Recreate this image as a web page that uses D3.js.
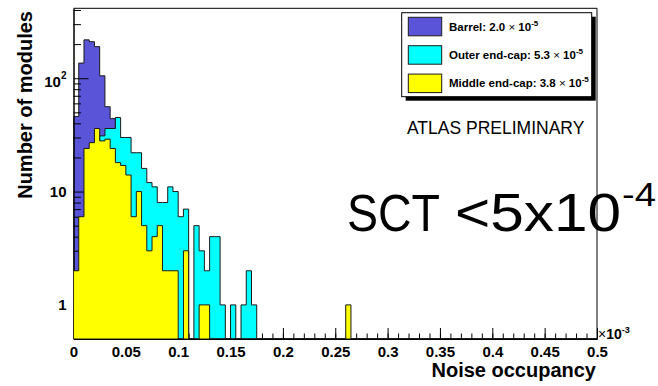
<!DOCTYPE html>
<html>
<head>
<meta charset="utf-8">
<script src="https://cdn.jsdelivr.net/npm/d3@7"></script>
<style>
  body { margin: 0; background: #fff; }
  svg { display: block; font-family: "Liberation Sans", Arial, Helvetica, sans-serif; }
</style>
</head>
<body>
<div id="chart"></div>
<script>
(function() {

    // noise occupancy histograms, bins of 0.005 (x10^-3) from 0 to 0.5
    var binWidth = 0.005;
    var nBins = 100;

    // modules per bin, bins past the end of each list are empty
    var barrel = [46, 136, 218, 210, 190, 105, 56, 44, 30, 20, 12, 8, 5, 3, 2, 1, 1];
    var outerEndcap = [0, 0, 0, 0, 0, 31, 36, 36, 45, 30, 30, 22, 22, 16, 12, 11, 8, 8, 11, 10,
                       6, 7, 0, 5, 3, 2, 4, 4, 1, 0, 1, 0, 1, 2, 1];
    var middleEndcap = [2, 6, 24, 27, 36, 28, 29, 24, 18, 17, 14, 6, 10, 5, 3, 4, 5, 2, 2, 2,
                        0, 3, 0, 0, 1, 1, 0, 0, 0, 0, 0, 0, 0, 0, 0, 0, 0, 0, 0, 0,
                        0, 0, 0, 0, 0, 0, 0, 0, 0, 0, 0, 0, 1];

    var legendNames = ["Barrel: ", "Outer end-cap: ", "Middle end-cap: "];
    var legendMeans = ["2.0", "5.3", "3.8"];
    var legendExponent = "-5";
    var colors = ["#5954d8", "#00ffff", "#ffff00"];

    var xTicks = [0, 0.05, 0.1, 0.15, 0.2, 0.25, 0.3, 0.35, 0.4, 0.45, 0.5];
    var yTicks = [1, 10, 100];
    var yMinorTicks = [0.6, 0.7, 0.8, 0.9, 2, 3, 4, 5, 6, 7, 8, 9,
                       20, 30, 40, 50, 60, 70, 80, 90, 200, 300, 400];

    var W = 658, H = 386;
    var frame = {left: 73.5, right: 597, top: 8.3, bottom: 339};

    var svg = d3.select("#chart").append("svg")
        .attr("width", W)
        .attr("height", H);

    svg.append("rect").attr("width", W).attr("height", H).attr("fill", "#fff");

    var x = d3.scaleLinear().domain([0, 0.5]).range([frame.left, frame.right]);
    var y = d3.scaleLog().domain([0.5, 414]).range([frame.bottom, frame.top]);

    svg.append("clipPath").attr("id", "plot-clip")
      .append("rect")
        .attr("x", frame.left).attr("y", frame.top)
        .attr("width", frame.right - frame.left)
        .attr("height", frame.bottom - frame.top);

    // step outline of one histogram, closed along the bottom of the frame
    function histPath(counts) {
        var pts = [[x(0), frame.bottom]];
        for (var i = 0; i < nBins; i++) {
            var v = counts[i] || 0;
            var yy = v > 0 ? y(v) : frame.bottom;
            pts.push([x(i * binWidth), yy], [x((i + 1) * binWidth), yy]);
        }
        pts.push([x(nBins * binWidth), frame.bottom]);
        return d3.line()(pts) + "Z";
    }

    function drawHist(counts, color) {
        svg.append("path")
            .attr("clip-path", "url(#plot-clip)")
            .attr("d", histPath(counts))
            .attr("fill", color)
            .attr("stroke", "#1a1a1a")
            .attr("stroke-width", 1);
    }

    // barrel first, then frame and axes, then the end-caps drawn "same" on top
    drawHist(barrel, colors[0]);

    svg.append("path")
        .attr("d", "M" + frame.left + "," + frame.top + "H" + frame.right + "V" + frame.bottom)
        .attr("fill", "none")
        .attr("stroke", "#000")
        .attr("stroke-width", 1);

    var labelFont = function(g) {
        g.attr("font-family", null).attr("font-size", null);
        g.selectAll("text")
            .attr("font-size", 15)
            .attr("font-weight", "bold")
            .attr("fill", "#000");
    };

    // x axis, ticks pointing into the frame
    svg.append("g")
        .attr("transform", "translate(0," + frame.bottom + ")")
        .call(d3.axisBottom(x).tickValues(d3.range(0, 0.5001, 0.01))
            .tickSize(-5.5).tickSizeOuter(0).tickFormat(""));

    svg.append("g")
        .attr("transform", "translate(0," + frame.bottom + ")")
        .call(d3.axisBottom(x).tickValues(xTicks)
            .tickSize(-11).tickSizeOuter(0).tickPadding(7)
            .tickFormat(d3.format("~g")))
        .call(labelFont);

    // y axis, log scale
    svg.append("g")
        .attr("transform", "translate(" + frame.left + ",0)")
        .call(d3.axisLeft(y).tickValues(yMinorTicks)
            .tickSize(-7.5).tickSizeOuter(0).tickFormat(""));

    var yAxis = svg.append("g")
        .attr("transform", "translate(" + frame.left + ",0)")
        .call(d3.axisLeft(y).tickValues(yTicks)
            .tickSize(-15).tickSizeOuter(0).tickPadding(7)
            .tickFormat(function(d) { return d === 100 ? "" : d; }))
        .call(labelFont);

    yAxis.selectAll(".tick").filter(function(d) { return d === 100; })
        .select("text")
        .attr("dy", "0.55em")
        .call(function(t) {
            t.append("tspan").text("10");
            t.append("tspan").attr("font-size", 10).attr("dy", "-0.75em").text("2");
        });

    drawHist(outerEndcap, colors[1]);
    drawHist(middleEndcap, colors[2]);

    // axis titles
    svg.append("text")
        .attr("x", 596)
        .attr("y", 377)
        .attr("text-anchor", "end")
        .attr("font-size", 20)
        .attr("font-weight", "bold")
        .text("Noise occupancy");

    svg.append("text")
        .attr("transform", "translate(32,11) rotate(-90)")
        .attr("text-anchor", "end")
        .attr("font-size", 20)
        .attr("font-weight", "bold")
        .text("Number of modules");

    var xExp = svg.append("text")
        .attr("x", 598)
        .attr("y", 339)
        .attr("font-size", 14)
        .attr("font-weight", "bold");
    xExp.append("tspan").attr("font-weight", "normal").text("\u00d7");
    xExp.append("tspan").text("10");
    xExp.append("tspan").attr("font-size", 9).attr("dy", -6).text("-3");

    // legend with drop shadow
    var leg = {x: 401.7, y: 12.7, w: 190, h: 84};
    svg.append("rect")
        .attr("x", leg.x + 4).attr("y", leg.y + 4)
        .attr("width", leg.w).attr("height", leg.h)
        .attr("fill", "#000");
    svg.append("rect")
        .attr("x", leg.x).attr("y", leg.y)
        .attr("width", leg.w).attr("height", leg.h)
        .attr("fill", "#fff")
        .attr("stroke", "#000")
        .attr("stroke-width", 1);

    legendNames.forEach(function(name, i) {
        var top = 17.3 + i * 28.4;
        svg.append("rect")
            .attr("x", 408.3).attr("y", top)
            .attr("width", 33.4).attr("height", 18.5)
            .attr("fill", colors[i])
            .attr("stroke", "#1a1a1a")
            .attr("stroke-width", 1);
        var t = svg.append("text")
            .attr("x", 449)
            .attr("y", top + 13.3)
            .attr("font-size", 11.5)
            .attr("font-weight", "bold");
        t.append("tspan").text(name + legendMeans[i] + " ");
        t.append("tspan").attr("font-weight", "normal").text("\u00d7");
        t.append("tspan").text(" 10");
        t.append("tspan").attr("font-size", 8).attr("dy", -5).text(legendExponent);
    });

    svg.append("text")
        .attr("x", 407)
        .attr("y", 134)
        .attr("font-size", 17.5)
        .text("ATLAS PRELIMINARY");

    // big annotation, main part and raised exponent
    svg.append("text")
        .attr("x", 347)
        .attr("y", 231)
        .attr("font-size", 52)
        .attr("textLength", 93)
        .attr("lengthAdjust", "spacingAndGlyphs")
        .text("SCT");
    svg.append("text")
        .attr("x", 455)
        .attr("y", 231)
        .attr("font-size", 54)
        .attr("textLength", 166)
        .attr("lengthAdjust", "spacingAndGlyphs")
        .text("<5x10");
    svg.append("text")
        .attr("x", 622)
        .attr("y", 206)
        .attr("font-size", 34)
        .attr("textLength", 34)
        .attr("lengthAdjust", "spacingAndGlyphs")
        .text("-4");

})();
</script>
</body>
</html>
